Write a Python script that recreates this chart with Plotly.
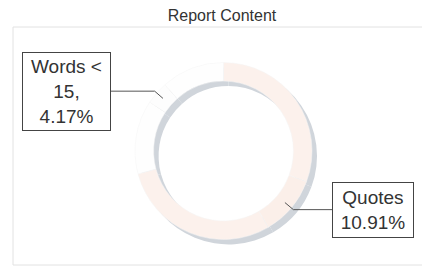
import math
import plotly.graph_objects as go

# ---- data ----
categories = ["Body", "Quotes", "Other text", "Headings", "Words < 15", "Misc"]
values = [30.67, 10.91, 29.28, 13.47, 4.17, 11.53]
labelled = ["Words < 15", "Quotes"]
slice_colors = ["#fcf1ec", "#fbefe9", "#fcf1ec", "#fefefe", "#fdfdfd", "#fefefe"]
title_text = "Report Content"

W, H = 422, 275
cx, cy, R = 223.5, 151.0, 88.5   # ring centre / radius in pixels
hole = 0.79
shadow_dx, shadow_dy = 5, 5
FONT = "Liberation Sans, Arial, sans-serif"

def px(x):
    return x / W

def py(y):
    return 1 - y / H

def dom(cxp, cyp):
    return dict(x=[px(cxp - R), px(cxp + R)], y=[py(cyp + R), py(cyp - R)])

fig = go.Figure()
# drop shadow ring
fig.add_trace(go.Pie(
    labels=categories, values=values, sort=False, direction="clockwise",
    hole=hole, domain=dom(cx + shadow_dx, cy + shadow_dy),
    marker=dict(colors=["#d0d5db"] * len(values), line=dict(width=0)),
    textinfo="none", hoverinfo="skip", showlegend=False,
))
# main ring
fig.add_trace(go.Pie(
    labels=categories, values=values, sort=False, direction="clockwise",
    hole=hole, domain=dom(cx, cy),
    marker=dict(colors=slice_colors, line=dict(color="#f5f5f5", width=0.5)),
    textinfo="none", showlegend=False,
))

total = sum(values)
cum = 0.0
mid_angle = {}
for c, v in zip(categories, values):
    mid_angle[c] = (cum + v / 2) / total * 360.0
    cum += v

def ring_pt(angle_deg, r):
    a = math.radians(angle_deg)
    return cx + r * math.sin(a), cy - r * math.cos(a)

boxes = {
    "Words < 15": dict(x=66.5, y=91.5, w=85, h=75, text="Words <<br>15,<br>{:.2f}%", edge=110),
    "Quotes": dict(x=373, y=210, w=78, h=52, text="Quotes<br>{:.2f}%", edge=333),
}

shapes = []
annotations = []
rmid = R * (1 + hole) / 2
for c in labelled:
    v = values[categories.index(c)]
    b = boxes[c]
    annotations.append(dict(
        x=px(b["x"]), y=py(b["y"]), xref="paper", yref="paper",
        xanchor="center", yanchor="middle",
        text=b["text"].format(v), showarrow=False, align="center",
        width=b["w"], height=b["h"], bordercolor="#444", borderwidth=1,
        bgcolor="white",
        font=dict(family=FONT, size=19, color="#333"),
    ))
    tx, ty = ring_pt(mid_angle[c], rmid + 1)
    ex, ey = ring_pt(mid_angle[c], rmid + 12)
    path = f"M {px(tx)},{py(ty)} L {px(ex)},{py(ey)} L {px(b['edge'])},{py(ey)}"
    shapes.append(dict(type="path", path=path, xref="paper", yref="paper",
                       line=dict(color="#555", width=1)))

# faint plot-area frame
shapes.append(dict(type="rect", xref="paper", yref="paper",
                   x0=px(13), x1=px(424), y0=py(265), y1=py(27),
                   line=dict(color="#e2e2e2", width=1), layer="below"))

fig.update_layout(
    width=W, height=H, margin=dict(l=0, r=0, t=0, b=0),
    paper_bgcolor="white", plot_bgcolor="white",
    title=dict(text=title_text, x=px(222), xanchor="center", y=py(15), yanchor="middle",
               font=dict(family=FONT, size=16, color="#333")),
    shapes=shapes, annotations=annotations, showlegend=False,
)

fig.write_html("out.html", config={"displayModeBar": False},
               post_script="document.body.style.margin='0';document.body.style.overflow='hidden';")
